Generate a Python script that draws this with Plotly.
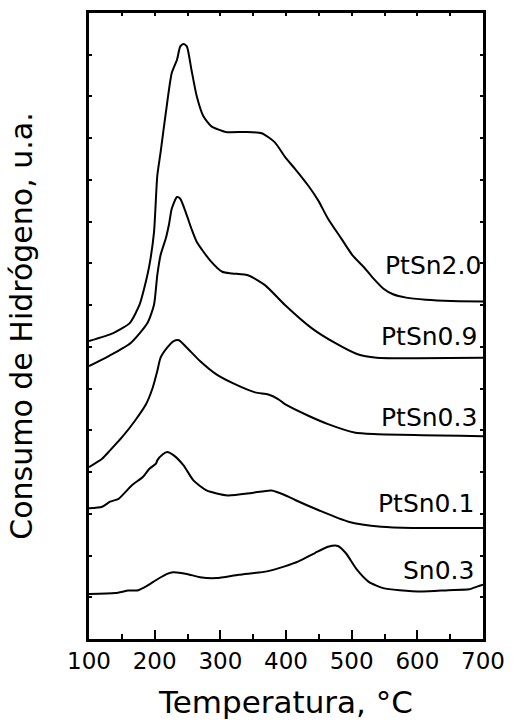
import plotly.graph_objects as go

# Temperature (°C) / H2 consumption (a.u., offset stacked) for each sample
t_ptsn20 = [100, 137, 162, 177, 184, 192, 199, 204, 209, 217, 226, 234, 239, 244, 249, 256, 264, 274, 286, 308, 338, 363, 383, 399, 414, 434, 449, 464, 484, 501, 518, 533, 548, 563, 583, 613, 652, 700]
y_ptsn20 = [7.14, 7.33, 7.57, 8.01, 8.40, 8.96, 9.75, 11.10, 11.66, 12.61, 13.56, 13.88, 14.20, 14.26, 14.20, 13.64, 13.01, 12.53, 12.29, 12.15, 12.15, 12.12, 11.90, 11.54, 11.26, 10.86, 10.51, 10.07, 9.60, 9.20, 8.92, 8.64, 8.40, 8.26, 8.18, 8.13, 8.10, 8.09]

t_ptsn09 = [100, 130, 164, 189, 199, 204, 209, 217, 222, 226, 234, 239, 249, 256, 264, 284, 303, 318, 343, 368, 398, 439, 474, 508, 538, 598, 700]
y_ptsn09 = [6.54, 6.78, 7.10, 7.57, 8.01, 8.72, 9.20, 9.60, 9.95, 10.31, 10.59, 10.55, 10.15, 9.83, 9.52, 9.08, 8.80, 8.76, 8.71, 8.48, 8.01, 7.45, 7.10, 6.83, 6.74, 6.73, 6.74]

t_ptsn03 = [100, 120, 132, 150, 170, 187, 197, 204, 209, 219, 229, 237, 249, 269, 294, 323, 353, 373, 388, 399, 434, 464, 504, 533, 700]
y_ptsn03 = [4.12, 4.32, 4.52, 4.83, 5.23, 5.63, 6.02, 6.42, 6.74, 6.98, 7.14, 7.16, 6.98, 6.66, 6.34, 6.10, 5.91, 5.86, 5.75, 5.62, 5.35, 5.15, 4.95, 4.91, 4.86]

t_ptsn01 = [100, 120, 132, 145, 165, 182, 192, 202, 204, 212, 219, 229, 244, 259, 279, 311, 348, 378, 398, 414, 449, 495, 545, 593, 700]
y_ptsn01 = [3.13, 3.17, 3.29, 3.36, 3.68, 3.88, 4.08, 4.20, 4.28, 4.42, 4.48, 4.40, 4.16, 3.80, 3.56, 3.44, 3.50, 3.56, 3.45, 3.33, 3.09, 2.81, 2.69, 2.66, 2.66]

t_sn03 = [100, 140, 160, 175, 187, 203, 219, 228, 249, 269, 294, 328, 371, 398, 419, 444, 464, 479, 491, 508, 526, 548, 573, 608, 647, 679, 692, 700]
y_sn03 = [1.08, 1.10, 1.16, 1.17, 1.26, 1.42, 1.56, 1.60, 1.56, 1.48, 1.46, 1.54, 1.62, 1.74, 1.86, 2.06, 2.21, 2.23, 2.06, 1.66, 1.37, 1.22, 1.17, 1.14, 1.17, 1.19, 1.26, 1.30]

series = [
    ("PtSn2.0", t_ptsn20, y_ptsn20),
    ("PtSn0.9", t_ptsn09, y_ptsn09),
    ("PtSn0.3", t_ptsn03, y_ptsn03),
    ("PtSn0.1", t_ptsn01, y_ptsn01),
    ("Sn0.3", t_sn03, y_sn03),
]

# label anchor positions (right edge x, centre y) in data units
label_x = [700, 694, 694, 689, 690]
label_y = [8.95, 7.24, 5.30, 3.24, 1.65]

x_ticks = [100, 200, 300, 400, 500, 600, 700]

FONT = "DejaVu Sans"

fig = go.Figure()
for name, t, y in series:
    fig.add_trace(go.Scatter(x=t, y=y, mode="lines", name=name,
                             line=dict(color="black", width=2, shape="spline", smoothing=0.6),
                             showlegend=False, hoverinfo="skip"))
# dummy trace for the top axis
fig.add_trace(go.Scatter(x=[100, 700], y=[0, 0], xaxis="x2", mode="lines",
                         line=dict(width=0), showlegend=False, hoverinfo="skip", opacity=0))

for name, lx, ly in zip([s[0] for s in series], label_x, label_y):
    fig.add_annotation(x=lx, y=ly, text=name, showarrow=False, xanchor="right", yanchor="middle",
                       font=dict(family=FONT, size=25, color="black"))

fig.update_layout(
    width=517, height=726,
    margin=dict(l=89, r=25, t=13, b=83),
    paper_bgcolor="white", plot_bgcolor="white",
    xaxis=dict(range=[100, 700], tickvals=x_ticks, ticktext=[str(v) for v in x_ticks],
               ticks="inside", ticklen=9, tickwidth=2, tickcolor="black",
               minor=dict(dtick=50, ticks="inside", ticklen=5, tickwidth=2, tickcolor="black"),
               showline=True, linewidth=2.5, linecolor="black", mirror=False,
               showgrid=False, zeroline=False,
               tickfont=dict(family=FONT, size=23, color="black"),
               title=dict(text="Temperatura, °C", font=dict(family=FONT, size=31, color="black"), standoff=18)),
    xaxis2=dict(range=[100, 700], overlaying="x", side="top", anchor="y", dtick=50, tick0=100,
                ticks="inside", ticklen=3, tickwidth=2, tickcolor="black",
                showticklabels=False, showline=True, linewidth=2.5, linecolor="black",
                showgrid=False, zeroline=False),
    yaxis=dict(range=[0, 15], dtick=1, tick0=0, ticks="inside", ticklen=3, tickwidth=2, tickcolor="black",
               showticklabels=False, showline=True, linewidth=2.5, linecolor="black", mirror="ticks",
               showgrid=False, zeroline=False,
               title=dict(text="Consumo de Hidrógeno, u.a.", font=dict(family=FONT, size=30, color="black"), standoff=45)),
)

fig.write_html("out.html")
